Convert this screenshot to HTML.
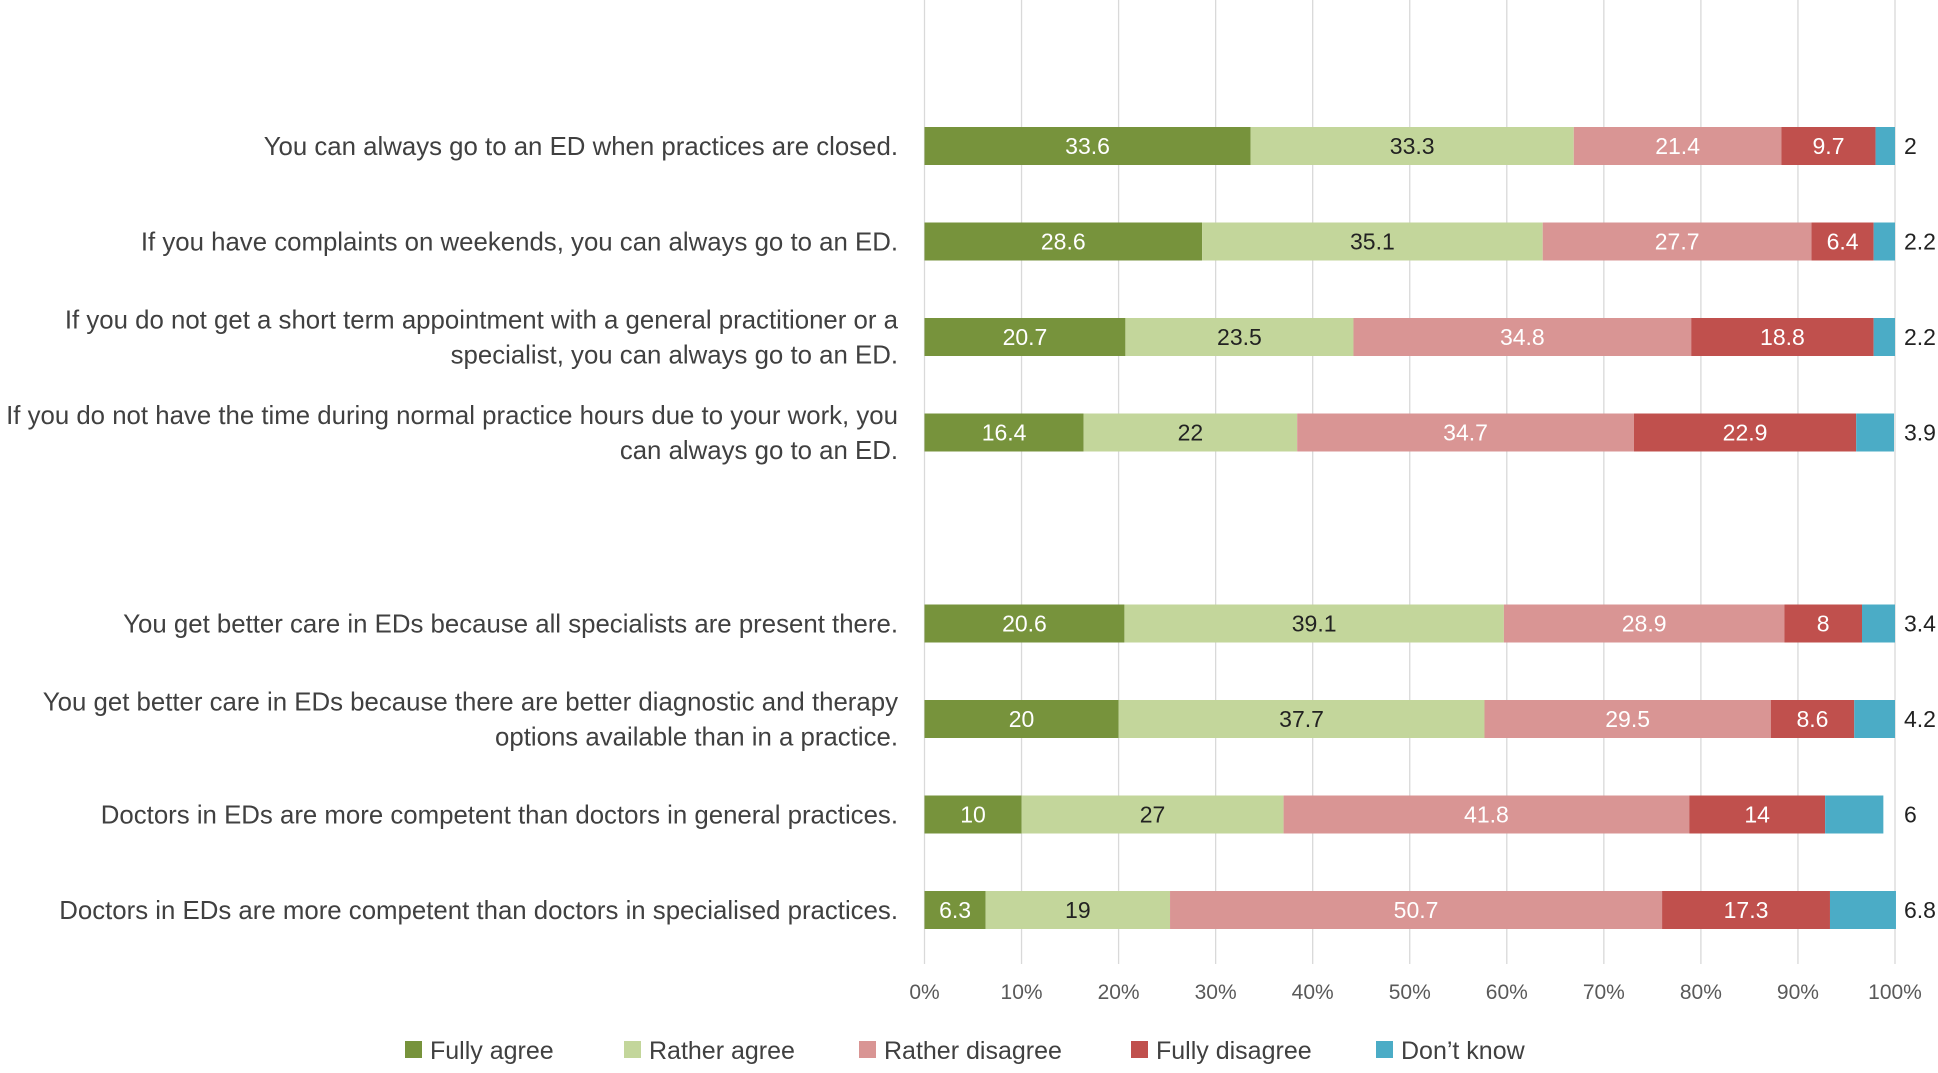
<!DOCTYPE html>
<html><head><meta charset="utf-8"><style>
body{margin:0;background:#fff;width:1938px;height:1068px;overflow:hidden;font-family:"Liberation Sans",sans-serif;}
</style></head><body>
<svg id="chart" width="1938" height="1068" xmlns="http://www.w3.org/2000/svg"></svg>
<script>
const categories=["You can always go to an ED when practices are closed.","If you have complaints on weekends, you can always go to an ED.","If you do not get a short term appointment with a general practitioner or a|specialist, you can always go to an ED.","If you do not have the time during normal practice hours due to your work, you|can always go to an ED.","You get better care in EDs because all specialists are present there.","You get better care in EDs because there are better diagnostic and therapy|options available than in a practice.","Doctors in EDs are more competent than doctors in general practices.","Doctors in EDs are more competent than doctors in specialised practices."];
const fullyAgree=[33.6,28.6,20.7,16.4,20.6,20,10,6.3];
const ratherAgree=[33.3,35.1,23.5,22,39.1,37.7,27,19];
const ratherDisagree=[21.4,27.7,34.8,34.7,28.9,29.5,41.8,50.7];
const fullyDisagree=[9.7,6.4,18.8,22.9,8,8.6,14,17.3];
const dontKnow=[2,2.2,2.2,3.9,3.4,4.2,6,6.8];
const seriesNames=["Fully agree","Rather agree","Rather disagree","Fully disagree","Don’t know"];
const tickLabels=["0%","10%","20%","30%","40%","50%","60%","70%","80%","90%","100%"];
const rowSlots=[0,1,2,3,5,6,7,8];

const colors=["#77933c","#c3d69b","#d99594","#c0504d","#4bacc6"];
const textColors=["#fff","#222","#fff","#fff","#222"];
const svg=document.getElementById('chart');
const NS="http://www.w3.org/2000/svg";
const X0=924.5,X1=1895;
const x=v=>X0+(X1-X0)*v/100;
const y=s=>146+s*95.5;
const BH=38;
function el(t,a,p){const e=document.createElementNS(NS,t);for(const k in a)e.setAttribute(k,a[k]);(p||svg).appendChild(e);return e;}
tickLabels.forEach((t,i)=>{
  const g=el('line',{x1:x(i*10),x2:x(i*10),y1:0,y2:964,stroke:'#d9d9d9','stroke-width':1.3});
  
  
  const tx=el('text',{x:x(i*10),y:999,'text-anchor':'middle','font-size':21,fill:'#595959'});
  tx.textContent=t;
  
  
});
const series=[fullyAgree,ratherAgree,ratherDisagree,fullyDisagree,dontKnow];
categories.forEach((c,i)=>{
  const cy=y(rowSlots[i]);
  const lines=c.split('|');
  const lt=el('text',{x:898,'text-anchor':'end','font-size':25.8,fill:'#404040'});
  
  
  lines.forEach((l,j)=>{const ts=el('tspan',{x:898,y:cy+9+(j-(lines.length-1)/2)*35},lt);ts.textContent=l;});
  let acc=0;
  series.forEach((s,k)=>{
    const v=s[i];
    const r=el('rect',{x:x(acc),y:cy-BH/2,width:x(acc+v)-x(acc),height:BH,fill:colors[k]});
    
    
    const t=el('text',{'font-size':23,'text-anchor':k===4?'start':'middle',fill:k===4?'#222':textColors[k],y:cy+8});
    t.setAttribute('x',k===4?x(100)+9:(x(acc)+x(acc+v))/2);
    t.textContent=v;
    
    
    acc+=v;
  });
});
const legX=[405,624,859,1131,1376];
seriesNames.forEach((n,k)=>{
  const r=el('rect',{x:legX[k],y:1041,width:17,height:17,fill:colors[k]});
  
  
  const t=el('text',{x:legX[k]+25,y:1059,'font-size':25,fill:'#404040'});
  t.textContent=n;
  
  
});
</script>
</body></html>
